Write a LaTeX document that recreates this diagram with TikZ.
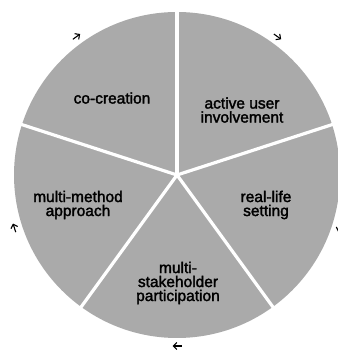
\documentclass[tikz,border=0pt]{standalone}
\usepackage{fontspec}
\setmainfont[FakeBold=2]{Liberation Sans}
\usetikzlibrary{arrows.meta,calc}
\definecolor{slicegray}{HTML}{AAAAAA}
\tikzset{
  gap/.style={draw=white,line width=3.2pt},
  lbl/.style={align=center,font=\fontsize{15.5}{14}\selectfont,inner sep=0pt},
  turn/.style={-{Straight Barb[length=3.5pt,width=7pt]},line width=1.1pt}
}

\begin{document}
\begin{tikzpicture}[x=1pt,y=1pt]
  \useasboundingbox (0,0) rectangle (337,355);
  \coordinate (c) at (177,180);
  % disc split into five wedges
  \fill[slicegray] (c) circle (163);
  \foreach \a in {18,90,162,234,306}
    \draw[gap] (c) -- ++(\a:166);
  % clockwise marks round the rim
  \foreach \a in {54,126,198,270,342}
    \draw[turn] ($(c)+(\a:171)+(\a+90:4.5)$) -- ++(\a-90:9);
  \node[lbl] (cocreation) at (112,257) {co-creation};
  \node[lbl] (active) at (242,245) {active user\\involvement};
  \node[lbl] (reallife) at (266,150) {real-life\\setting};
  \node[lbl] (stakeholder) at (178,72) {multi-\\stakeholder\\participation};
  \node[lbl] (method) at (78,150) {multi-method\\approach};
\end{tikzpicture}
\end{document}
